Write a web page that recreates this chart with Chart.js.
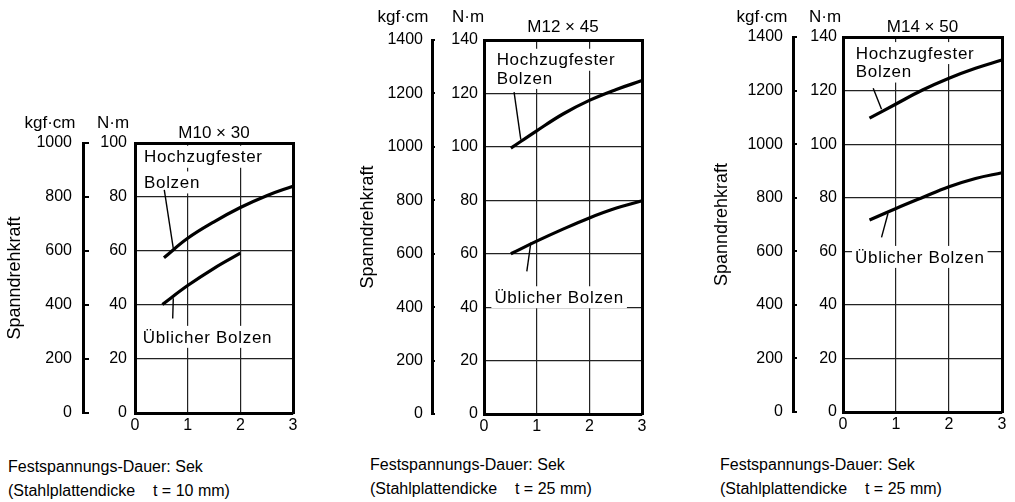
<!DOCTYPE html>
<html>
<head>
<meta charset="utf-8">
<script src="https://cdn.jsdelivr.net/npm/chart.js@4.4.1/dist/chart.umd.min.js"></script>
<style>
    body { margin: 0; width: 1015px; height: 502px; background: #fff; position: relative; overflow: hidden;
           font-family: "Liberation Sans", Arial, sans-serif; color: #000; }
    canvas { position: absolute; }
    .cap { position: absolute; font-size: 16px; line-height: 24px; white-space: pre; }
</style>
</head>
<body>
<canvas id="c1" width="330" height="340" style="left:0;top:100px;width:330px;height:340px"></canvas>
<canvas id="c2" width="330" height="441" style="left:350px;top:0;width:330px;height:441px"></canvas>
<canvas id="c3" width="315" height="439" style="left:700px;top:0;width:315px;height:439px"></canvas>

<div class="cap" style="left:8px;top:455px">Festspannungs-Dauer: Sek
(Stahlplattendicke    t = 10 mm)</div>
<div class="cap" style="left:370px;top:453px">Festspannungs-Dauer: Sek
(Stahlplattendicke    t = 25 mm)</div>
<div class="cap" style="left:720px;top:453px">Festspannungs-Dauer: Sek
(Stahlplattendicke    t = 25 mm)</div>

<script>
// Achsen / Beschriftungen
const xTicks = [0, 1, 2, 3];
const panelTitles = ['M10 \u00d7 30', 'M12 \u00d7 45', 'M14 \u00d7 50'];
const nmMax = [100, 140, 140];
const kgfMax = [1000, 1400, 1400];
const nmStep = 20;
const kgfStep = 200;
const seriesNames = ['Hochzugfester Bolzen', '\u00dcblicher Bolzen'];

// M10 x 30 (t = 10 mm)
const hochX1 = [0.55, 1, 1.5, 2, 2.5, 3];
const hochY1 = [57.5, 64.7, 70.8, 76.1, 80.5, 84];
const ublX1 = [0.52, 1, 1.5, 2];
const ublY1 = [40.2, 47.2, 53.6, 59.2];

// M12 x 45 (t = 25 mm)
const hochX2 = [0.51, 1, 1.5, 2, 2.5, 3];
const hochY2 = [99.5, 106, 112.3, 117.4, 121.4, 124.8];
const ublX2 = [0.51, 1, 1.5, 2, 2.5, 3];
const ublY2 = [60, 64.7, 69.2, 73.4, 77, 79.8];

// M14 x 50 (t = 25 mm)
const hochX3 = [0.5, 1, 1.5, 2, 2.5, 3];
const hochY3 = [109.7, 115, 120.2, 124.6, 128.3, 131.4];
const ublX3 = [0.5, 1, 1.5, 2, 2.5, 3];
const ublY3 = [71.7, 76, 80.1, 84.1, 87.2, 89.3];

const FONT = '"Liberation Sans", Arial, sans-serif';
const INK = '#000';

// Layout je Diagramm (Pixel), Beschriftungen in Datenkoordinaten
const panels = [
    {
        id: 'c1', hoch: [hochX1, hochY1], ubl: [ublX1, ublY1],
        pad: { top: 43, right: 37 }, kgfW: 83, nmW: 52, tickLen: -6, kgfPad: 17, nmPad: 8, titlePad: 4,
        titleDy: -10, unitDy: -20, kgfDx: -33, nmDx: -22,
        hochLabel: { x: 0.17, y: [94.9, 85.4] }, ublLabel: { x: 0.146, y: 28.2 },
        leaders: [[0.556, 82.6, 0.727, 61.0], [0.727, 42.5, 0.716, 35.0]]
    },
    {
        id: 'c2', hoch: [hochX2, hochY2], ubl: [ublX2, ublY2],
        pad: { top: 40, right: 38 }, kgfW: 82, nmW: 52, tickLen: -3, kgfPad: 12, nmPad: 6, titlePad: 7,
        titleDy: -13, unitDy: -23, kgfDx: -29, nmDx: -16,
        hochLabel: { x: 0.24, y: [132.6, 125.8] }, ublLabel: { x: 0.197, y: 43.7 },
        leaders: [[0.571, 120.5, 0.699, 102.7], [0.89, 64.2, 0.813, 53.4]]
    },
    {
        id: 'c3', hoch: [hochX3, hochY3], ubl: [ublX3, ublY3],
        pad: { top: 37, right: 13 }, kgfW: 93, nmW: 50, tickLen: -4, kgfPad: 14, nmPad: 6, titlePad: 11,
        titleDy: -10, unitDy: -20, kgfDx: -31, nmDx: -18,
        hochLabel: { x: 0.24, y: [134, 127.1] }, ublLabel: { x: 0.227, y: 57.9 },
        leaders: [[0.57, 120.9, 0.727, 113], [0.85, 74.2, 0.727, 65.2]]
    }
];

function toPoints(xs, ys) {
    return xs.map((x, i) => ({ x: x, y: ys[i] }));
}

// Beschriftungen, Hinweislinien, Titel und Einheiten
function makeAnnotPlugin(p, idx) {
    const labelFont = '17px ' + FONT;
    function labelLines(chart) {
        const xs = chart.scales.x, ys = chart.scales.y;
        const h = p.hochLabel, u = p.ublLabel;
        return [
            { text: 'Hochzugfester', x: xs.getPixelForValue(h.x), y: ys.getPixelForValue(h.y[0]) },
            { text: 'Bolzen', x: xs.getPixelForValue(h.x), y: ys.getPixelForValue(h.y[1]) },
            { text: seriesNames[1], x: xs.getPixelForValue(u.x), y: ys.getPixelForValue(u.y) }
        ];
    }
    return {
        id: 'annot' + idx,
        beforeDatasetsDraw(chart) {
            const ctx = chart.ctx;
            ctx.save();
            ctx.font = labelFont;
            ctx.letterSpacing = '0.7px';
            ctx.textBaseline = 'middle';
            ctx.textAlign = 'left';
            labelLines(chart).forEach(l => {
                const w = ctx.measureText(l.text).width;
                ctx.fillStyle = '#fff';
                ctx.fillRect(l.x - 3, l.y - 11, w + 6, 22);
                ctx.fillStyle = INK;
                ctx.fillText(l.text, l.x, l.y + 1);
            });
            ctx.restore();
        },
        afterDatasetsDraw(chart) {
            const ctx = chart.ctx, xs = chart.scales.x, ys = chart.scales.y;
            ctx.save();
            ctx.strokeStyle = INK;
            ctx.lineWidth = 1.4;
            p.leaders.forEach(l => {
                ctx.beginPath();
                ctx.moveTo(xs.getPixelForValue(l[0]), ys.getPixelForValue(l[1]));
                ctx.lineTo(xs.getPixelForValue(l[2]), ys.getPixelForValue(l[3]));
                ctx.stroke();
            });
            ctx.restore();
        },
        afterDraw(chart) {
            const ctx = chart.ctx, area = chart.chartArea;
            const kgfBorder = chart.scales.yk.right;
            ctx.save();
            ctx.fillStyle = INK;
            ctx.textAlign = 'center';
            ctx.textBaseline = 'middle';
            ctx.font = '17px ' + FONT;
            ctx.fillText(panelTitles[idx], (area.left + area.right) / 2, area.top + p.titleDy);
            ctx.fillText('kgf\u00b7cm', kgfBorder + p.kgfDx, area.top + p.unitDy);
            ctx.fillText('N\u00b7m', area.left + p.nmDx, area.top + p.unitDy);
            ctx.restore();
        }
    };
}

function buildChart(p, idx) {
    const ctx = document.getElementById(p.id).getContext('2d');
    const tickFont = { family: FONT, size: 16 };
    const black = INK;
    const plain = v => String(v);
    return new Chart(ctx, {
        type: 'line',
        data: {
            datasets: [
                { label: seriesNames[0], data: toPoints(p.hoch[0], p.hoch[1]) },
                { label: seriesNames[1], data: toPoints(p.ubl[0], p.ubl[1]) }
            ]
        },
        options: {
            responsive: false,
            animation: false,
            layout: { padding: { top: p.pad.top, right: p.pad.right, left: 0, bottom: 0 } },
            elements: {
                point: { radius: 0 },
                line: { borderColor: black, borderWidth: 3.2, tension: 0.4, borderCapStyle: 'butt' }
            },
            datasets: { line: { clip: false } },
            plugins: { legend: { display: false }, tooltip: { enabled: false } },
            scales: {
                x: {
                    type: 'linear', position: 'bottom', min: 0, max: 3,
                    afterBuildTicks: s => { s.ticks = xTicks.map(v => ({ value: v })); },
                    afterFit: s => { s.height = 27; },
                    ticks: { color: black, font: tickFont, padding: 3, callback: plain },
                    grid: { color: '#222', lineWidth: 1.2, drawTicks: false },
                    border: { display: true, color: black, width: 3 }
                },
                xt: {
                    type: 'linear', position: 'top', min: 0, max: 3,
                    afterFit: s => { s.height = 0; },
                    ticks: { display: false },
                    grid: { display: false },
                    border: { display: true, color: black, width: 3 }
                },
                yr: {
                    type: 'linear', position: 'right', min: 0, max: nmMax[idx],
                    afterFit: s => { s.width = 0; },
                    ticks: { display: false },
                    grid: { display: false },
                    border: { display: true, color: black, width: 3 }
                },
                y: {
                    type: 'linear', position: 'left', weight: 0, min: 0, max: nmMax[idx],
                    afterFit: s => { s.width = p.nmW; },
                    ticks: { stepSize: nmStep, color: black, font: tickFont, padding: p.nmPad, callback: plain },
                    grid: { color: '#222', lineWidth: 1.2, drawTicks: false },
                    border: { display: true, color: black, width: 3 }
                },
                yk: {
                    type: 'linear', position: 'left', weight: 1, min: 0, max: kgfMax[idx],
                    afterFit: s => { s.width = p.kgfW; },
                    ticks: { stepSize: kgfStep, color: black, font: tickFont, padding: p.kgfPad, callback: plain },
                    grid: { drawOnChartArea: false, drawTicks: true, tickLength: p.tickLen, color: black, lineWidth: 2 },
                    border: { display: true, color: black, width: 3 },
                    title: {
                        display: true, text: 'Spanndrehkraft', color: black,
                        font: { family: FONT, size: 18 }, padding: { top: p.titlePad, bottom: 0 }
                    }
                }
            }
        },
        plugins: [makeAnnotPlugin(p, idx)]
    });
}

document.addEventListener('DOMContentLoaded', function() {
    panels.forEach((p, i) => buildChart(p, i));
});
</script>
</body>
</html>
